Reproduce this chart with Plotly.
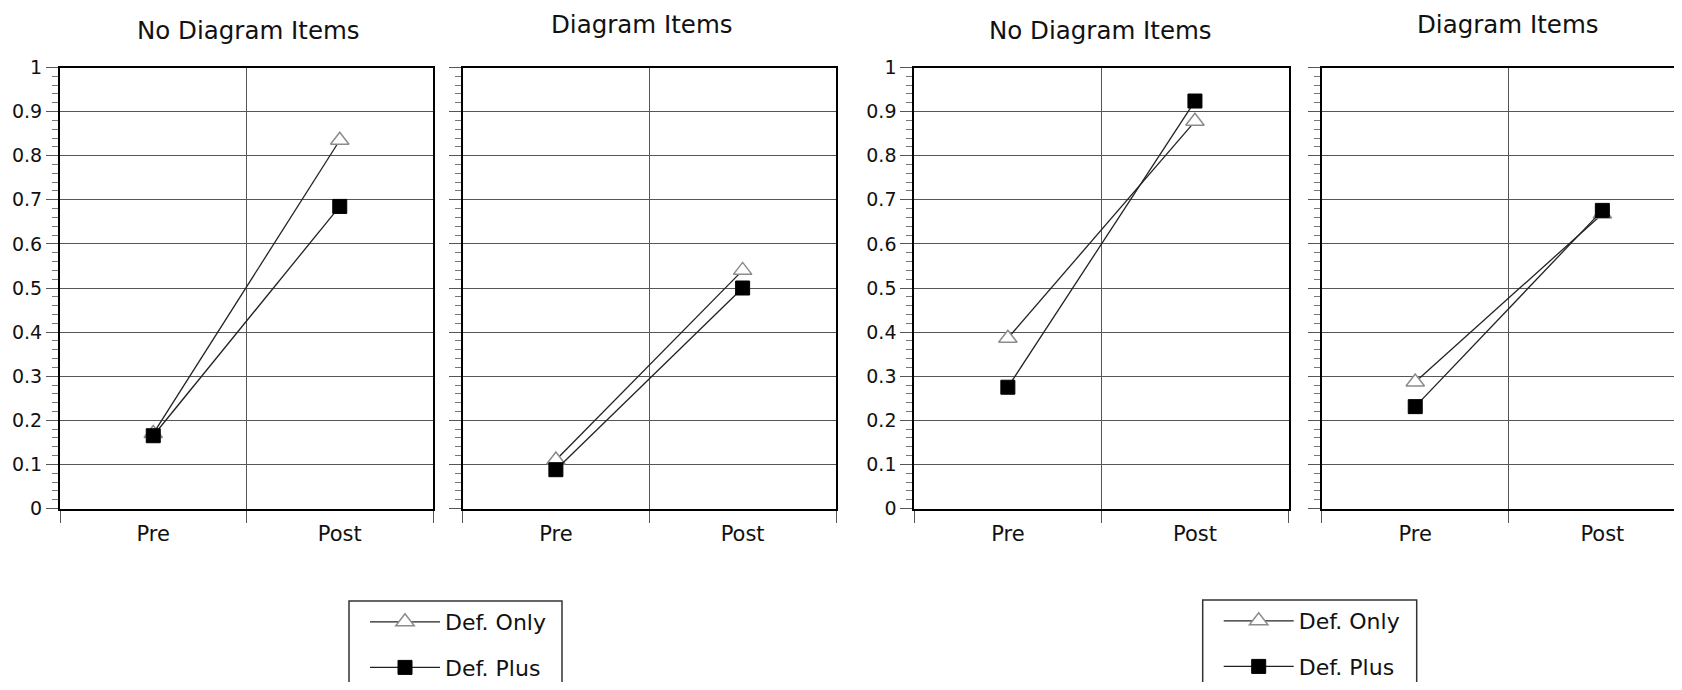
import plotly.graph_objects as go

categories = ["Pre", "Post"]
titles = ["No Diagram Items", "Diagram Items", "No Diagram Items", "Diagram Items"]
series_names = ["Def. Only", "Def. Plus"]

# group 1 (left pair of panels)
nodiag1_only = [0.17, 0.835]
nodiag1_plus = [0.165, 0.685]
diag1_only = [0.11, 0.54]
diag1_plus = [0.088, 0.50]
# group 2 (right pair of panels)
nodiag2_only = [0.386, 0.878]
nodiag2_plus = [0.275, 0.924]
diag2_only = [0.287, 0.668]
diag2_plus = [0.231, 0.676]

OFF = 8  # default page body margin
W, H = 1682 - OFF, 690 - 2 * OFF
FONT = "DejaVu Sans"


def fx(px):
    return (px - OFF) / W


def fy(py):
    return 1 - (py - OFF) / H


panels = [
    (nodiag1_only, nodiag1_plus),
    (diag1_only, diag1_plus),
    (nodiag2_only, nodiag2_plus),
    (diag2_only, diag2_plus),
]
xdom_px = [(60, 433), (462.5, 836), (914.3, 1288.5), (1321.7, 1682)]
ydom = [fy(508.5), fy(67.5)]
title_pos = [(248, 30), (642, 24), (1100, 30), (1508, 24)]
legend_boxes = [(349, 601, 562), (1202.7, 600, 1416.7)]

fig = go.Figure()
for i, (only, plus) in enumerate(panels):
    ax = "" if i == 0 else str(i + 1)
    legend = "legend" if i < 2 else "legend2"
    show = i in (0, 2)
    grp = "a" if i < 2 else "b"
    fig.add_trace(go.Scatter(
        x=categories, y=only, mode="lines+markers", name=series_names[0],
        xaxis="x" + ax, yaxis="y" + ax, legend=legend, showlegend=show,
        legendgroup="only" + grp,
        line=dict(color="#222222", width=1.3),
        marker=dict(symbol="triangle-up", size=16, color="white",
                    line=dict(color="#8c8c8c", width=1.5)),
    ))
    fig.add_trace(go.Scatter(
        x=categories, y=plus, mode="lines+markers", name=series_names[1],
        xaxis="x" + ax, yaxis="y" + ax, legend=legend, showlegend=show,
        legendgroup="plus" + grp,
        line=dict(color="#222222", width=1.3),
        marker=dict(symbol="square", size=14, color="black",
                    line=dict(color="black", width=1)),
    ))

layout = dict(
    width=W, height=H,
    margin=dict(l=0, r=0, t=0, b=0, autoexpand=False),
    paper_bgcolor="white", plot_bgcolor="white",
    font=dict(family=FONT, color="#111111"),
    showlegend=True,
)
for i in range(4):
    ax = "" if i == 0 else str(i + 1)
    x0, x1 = xdom_px[i]
    xr = [-0.5, 1.5]
    if i == 3:
        unit = (1288.5 - 914.3) / 2
        xr = [-0.5, -0.5 + (1682 - 1321.7) / unit]
    layout["xaxis" + ax] = dict(
        domain=[fx(x0), min(1.0, fx(x1))], anchor="y" + ax, type="category",
        range=xr, tickson="boundaries", ticks="outside", ticklen=12,
        tickwidth=1, tickcolor="#555555", ticklabelstandoff=5,
        showgrid=True, gridcolor="#555555", gridwidth=1,
        showline=True, linecolor="black", linewidth=2, mirror=True,
        tickfont=dict(family=FONT, size=21, color="#111111"),
        fixedrange=True,
    )
    layout["yaxis" + ax] = dict(
        domain=ydom, anchor="x" + ax, range=[0, 1], dtick=0.1, tick0=0,
        ticks="outside", ticklen=12, tickwidth=1, tickcolor="#555555",
        showticklabels=(i in (0, 2)),
        showgrid=True, gridcolor="#555555", gridwidth=1, zeroline=False,
        showline=True, linecolor="black", linewidth=2, mirror=(i != 3),
        tickfont=dict(family=FONT, size=19, color="#111111"),
        minor=dict(dtick=0.02, ticks="outside", ticklen=6, tickcolor="#777777",
                   tickwidth=1, showgrid=False),
        fixedrange=True,
    )

leg_common = dict(
    yanchor="top", xanchor="left",
    bgcolor="rgba(0,0,0,0)", borderwidth=0,
    font=dict(family=FONT, size=22, color="#111111"),
    itemwidth=70, indentation=16,
    tracegroupgap=14, traceorder="grouped",
)
layout["legend"] = dict(x=fx(legend_boxes[0][0]), y=fy(legend_boxes[0][1]), **leg_common)
layout["legend2"] = dict(x=fx(legend_boxes[1][0]), y=fy(legend_boxes[1][1]), **leg_common)

shapes = []
for (lx0, ly0, lx1) in legend_boxes:
    shapes.append(dict(
        type="rect", xref="paper", yref="paper",
        x0=fx(lx0), x1=fx(lx1), y0=fy(700), y1=fy(ly0),
        line=dict(color="#333333", width=1.5), fillcolor="rgba(0,0,0,0)",
        layer="above",
    ))
layout["shapes"] = shapes

annotations = []
for t, (px, py) in zip(titles, title_pos):
    annotations.append(dict(
        text=t, x=fx(px), y=fy(py), xref="paper", yref="paper",
        xanchor="center", yanchor="middle", showarrow=False,
        font=dict(family=FONT, size=24.5, color="#111111"),
    ))
layout["annotations"] = annotations

fig.update_layout(**layout)
fig.write_html("out.html")
